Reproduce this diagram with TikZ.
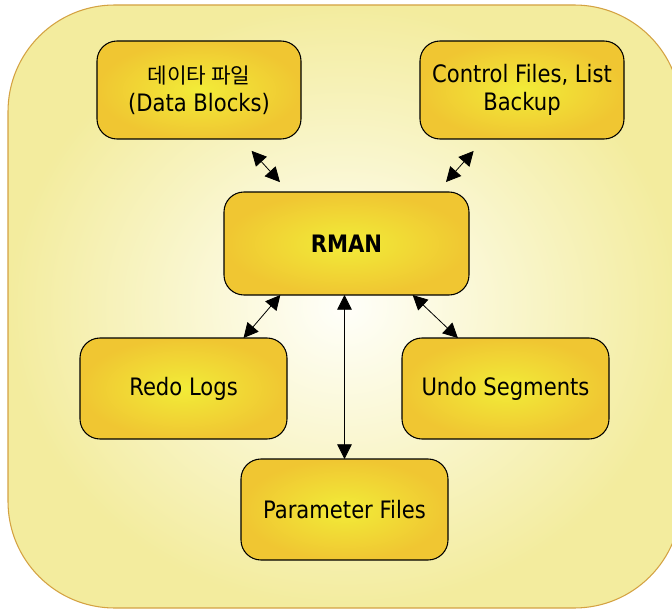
\documentclass[tikz,border=0pt]{standalone}
\usepackage{fontspec}
\setmainfont{DejaVu Sans}[FakeStretch=0.88]
\newfontfamily\krfont{Noto Sans CJK KR}
\usetikzlibrary{arrows.meta,calc}
\definecolor{boxin}{RGB}{242,236,56}
\definecolor{boxout}{RGB}{240,198,50}
\definecolor{panelin}{RGB}{255,255,250}
\definecolor{panelout}{RGB}{243,236,158}
\definecolor{panelline}{RGB}{212,162,66}

\begin{document}
\begin{tikzpicture}[
  x=0.75pt, y=-0.75pt,
  box/.style={draw, line width=0.8pt, rounded corners=15pt, inner color=boxin, outer color=boxout, minimum width=155.25pt, minimum height=75.75pt, outer sep=0pt, inner sep=2pt, align=center, font=\fontsize{18}{21}\selectfont},
  arr/.style={{Triangle[length=11pt,width=11pt]}-{Triangle[length=11pt,width=11pt]}, line width=0.6pt},
]
  \useasboundingbox (0,0) rectangle (672,610);

  % panel
  \draw[panelline, line width=0.8pt, rounded corners=80pt, inner color=panelin, outer color=panelout] (8,5) rectangle (681,608);

  % stores
  \node[box, minimum width=153pt, minimum height=73.5pt] (dblk) at (199,90) {{\krfont\fontsize{16}{21}\selectfont 데이타 파일}\\(Data Blocks)};
  \node[box, minimum width=153pt, minimum height=73.5pt] (ctrl) at (522,90) {Control Files, List\\Backup};

  \node[box, minimum width=183.75pt, minimum height=77.25pt] (rman) at (346.5,243.5) {\textbf{RMAN}};

  \node[box] (redo) at (183.5,388.5) {Redo Logs};
  \node[box] (undo) at (505.5,388.5) {Undo Segments};
  \node[box] (param) at (344.5,509.5) {Parameter Files};

  \draw[arr, shorten <=12pt, shorten >=10pt] ($(dblk.south)!0.41!(dblk.south east)$) -- ($(rman.north)!0.47!(rman.north west)$);
  \draw[arr, shorten <=12pt, shorten >=10pt] ($(ctrl.south)!0.37!(ctrl.south west)$) -- ($(rman.north)!0.74!(rman.north east)$);
  \draw[arr] ($(rman.south)!0.54!(rman.south west)$) -- ($(redo.north)!0.58!(redo.north east)$);
  \draw[arr] ($(rman.south)!0.54!(rman.south east)$) -- ($(undo.north)!0.46!(undo.north west)$);
  \draw[arr] (rman.south -| param.north) -- (param.north);
\end{tikzpicture}
\end{document}
